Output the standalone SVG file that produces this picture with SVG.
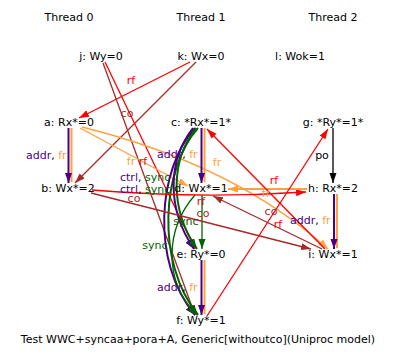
<svg xmlns="http://www.w3.org/2000/svg" width="398" height="361" viewBox="0 0 398 361">
<style>
text{font-family:"DejaVu Sans","Liberation Sans",sans-serif;font-size:11px;fill:#000}
.m{text-anchor:middle}
.e{fill:none;stroke-width:1.3}
.w{stroke-width:2}
.rf{stroke:#ff0000}.co{stroke:#a52a2a}.fr{stroke:#ffa040}.ad{stroke:#4b0082}.sy{stroke:#006400}.po{stroke:#000}
.trf{fill:#ff0000}.tco{fill:#a52a2a}.tfr{fill:#ffa040}.tad{fill:#4b0082}.tsy{fill:#006400}
</style>
<defs>
<marker id="aR" markerUnits="userSpaceOnUse" markerWidth="10" markerHeight="8" refX="10" refY="3.5" orient="auto"><path d="M0,0L10,3.5L0,7z" fill="#ff0000"/></marker>
<marker id="aC" markerUnits="userSpaceOnUse" markerWidth="10" markerHeight="8" refX="10" refY="3.5" orient="auto"><path d="M0,0L10,3.5L0,7z" fill="#a52a2a"/></marker>
<marker id="aF" markerUnits="userSpaceOnUse" markerWidth="10" markerHeight="8" refX="10" refY="3.5" orient="auto"><path d="M0,0L10,3.5L0,7z" fill="#ffa040"/></marker>
<marker id="aA" markerUnits="userSpaceOnUse" markerWidth="10" markerHeight="8" refX="10" refY="3.5" orient="auto"><path d="M0,0L10,3.5L0,7z" fill="#4b0082"/></marker>
<marker id="aS" markerUnits="userSpaceOnUse" markerWidth="10" markerHeight="8" refX="10" refY="3.5" orient="auto"><path d="M0,0L10,3.5L0,7z" fill="#006400"/></marker>
<marker id="aP" markerUnits="userSpaceOnUse" markerWidth="10" markerHeight="8" refX="10" refY="3.5" orient="auto"><path d="M0,0L10,3.5L0,7z" fill="#000"/></marker>
</defs>
<rect width="398" height="361" fill="#fff"/>
<g id="threads">
<text class="m" x="69" y="21">Thread 0</text>
<text class="m" x="201" y="21">Thread 1</text>
<text class="m" x="333" y="21">Thread 2</text>
</g>
<g id="connectors">
<path class="e rf" d="M190,62L79,118" marker-end="url(#aR)"/>
<path class="e co" d="M196,62L75,183" marker-end="url(#aC)"/>
<path class="e rf" d="M105,62L195,249" marker-end="url(#aR)"/>
<path class="e co" d="M103,63L195,315" marker-end="url(#aC)"/>
<path class="e w fr" d="M71.5,128L71.5,182"/>
<path class="e w ad" d="M68.5,128L68.5,183" marker-end="url(#aA)"/>
<path class="e fr" d="M80,128L188,186" marker-end="url(#aF)"/>
<path class="e fr" d="M82,127Q235,165 328,249" marker-end="url(#aF)"/>
<path class="e w fr" d="M204.5,128L204.5,182"/>
<path class="e w ad" d="M201.5,128L201.5,183" marker-end="url(#aA)"/>
<path class="e w fr" d="M204.5,260L204.5,314"/>
<path class="e w ad" d="M201.5,260L201.5,315" marker-end="url(#aA)"/>
<path class="e w fr" d="M337,194L337,248"/>
<path class="e w ad" d="M334,194L334,249" marker-end="url(#aA)"/>
<path class="e po" d="M333,128L333,183" marker-end="url(#aP)"/>
<path class="e w ad" d="M195,128C158,168 150,262 195,315" marker-end="url(#aA)"/>
<path class="e w sy" d="M198,128C162,168 155,262 198,315" marker-end="url(#aS)"/>
<path class="e w ad" d="M193,128C168,160 166,208 194,249" marker-end="url(#aA)"/>
<path class="e w sy" d="M196,128C171,160 169,208 197,249" marker-end="url(#aS)"/>
<path class="e sy" d="M202,195L202,249" marker-end="url(#aS)"/>
<path class="e sy" d="M195,195C166,228 162,280 197,315" marker-end="url(#aS)"/>
<path class="e rf" d="M92,190Q200,199 306,192" marker-end="url(#aR)"/>
<path class="e w fr" d="M307,189L228,189" marker-end="url(#aF)"/>
<path class="e co" d="M91,193L311,249" marker-end="url(#aC)"/>
<path class="e co" d="M322,249L213,196" marker-end="url(#aC)"/>
<path class="e rf" d="M325,249L207,129" marker-end="url(#aR)"/>
<path class="e rf" d="M207,316L328,129" marker-end="url(#aR)"/>
<text class="m trf" x="131" y="84">rf</text>
<text class="m tco" x="127" y="117">co</text>
<text x="26" y="159" xml:space="preserve"><tspan class="tad">addr</tspan>, <tspan class="tfr">fr</tspan></text>
<text x="157" y="158" xml:space="preserve"><tspan class="tad">addr</tspan>, <tspan class="tfr">fr</tspan></text>
<text x="157" y="291" xml:space="preserve"><tspan class="tad">addr</tspan>, <tspan class="tfr">fr</tspan></text>
<text x="290" y="224" xml:space="preserve"><tspan class="tad">addr</tspan>, <tspan class="tfr">fr</tspan></text>
<text class="m" x="322" y="159">po</text>
<text class="m tfr" x="131" y="165">fr</text>
<text class="m trf" x="143" y="165">rf</text>
<text class="m tfr" x="217" y="166">fr</text>
<text class="m tco" x="134" y="202">co</text>
<text x="120" y="181" xml:space="preserve"><tspan class="tad">ctrl</tspan>, <tspan class="tsy">sync</tspan></text>
<text x="120" y="193" xml:space="preserve"><tspan class="tad">ctrl</tspan>, <tspan class="tsy">sync</tspan></text>
<text class="m trf" x="201" y="205">rf</text>
<text class="m tco" x="203" y="217">co</text>
<text class="m tsy" x="186" y="225">sync</text>
<text class="m tsy" x="155" y="249">sync</text>
<text class="m trf" x="274" y="184">rf</text>
<text class="m tfr" x="266" y="197">fr</text>
<text class="m tco" x="271" y="215">co</text>
<text class="m trf" x="278" y="228">rf</text>
</g>
<g id="node-j"><text class="m" x="101" y="60">j: Wy=0</text></g>
<g id="node-k"><text class="m" x="201" y="60">k: Wx=0</text></g>
<g id="node-l"><text class="m" x="300" y="60">l: Wok=1</text></g>
<g id="node-a"><text class="m" x="69" y="126">a: Rx*=0</text></g>
<g id="node-b"><text class="m" x="68" y="192">b: Wx*=2</text></g>
<g id="node-c"><text class="m" x="201" y="126">c: *Rx*=1*</text></g>
<g id="node-d"><text class="m" x="201" y="192">d: Wx*=1</text></g>
<g id="node-e"><text class="m" x="201" y="258">e: Ry*=0</text></g>
<g id="node-f"><text class="m" x="201" y="324">f: Wy*=1</text></g>
<g id="node-g"><text class="m" x="333" y="126">g: *Ry*=1*</text></g>
<g id="node-h"><text class="m" x="333" y="192">h: Rx*=2</text></g>
<g id="node-i"><text class="m" x="333" y="258">i: Wx*=1</text></g>
<text class="m" x="198" y="343">Test WWC+syncaa+pora+A, Generic[withoutco](Uniproc model)</text>
</svg>
